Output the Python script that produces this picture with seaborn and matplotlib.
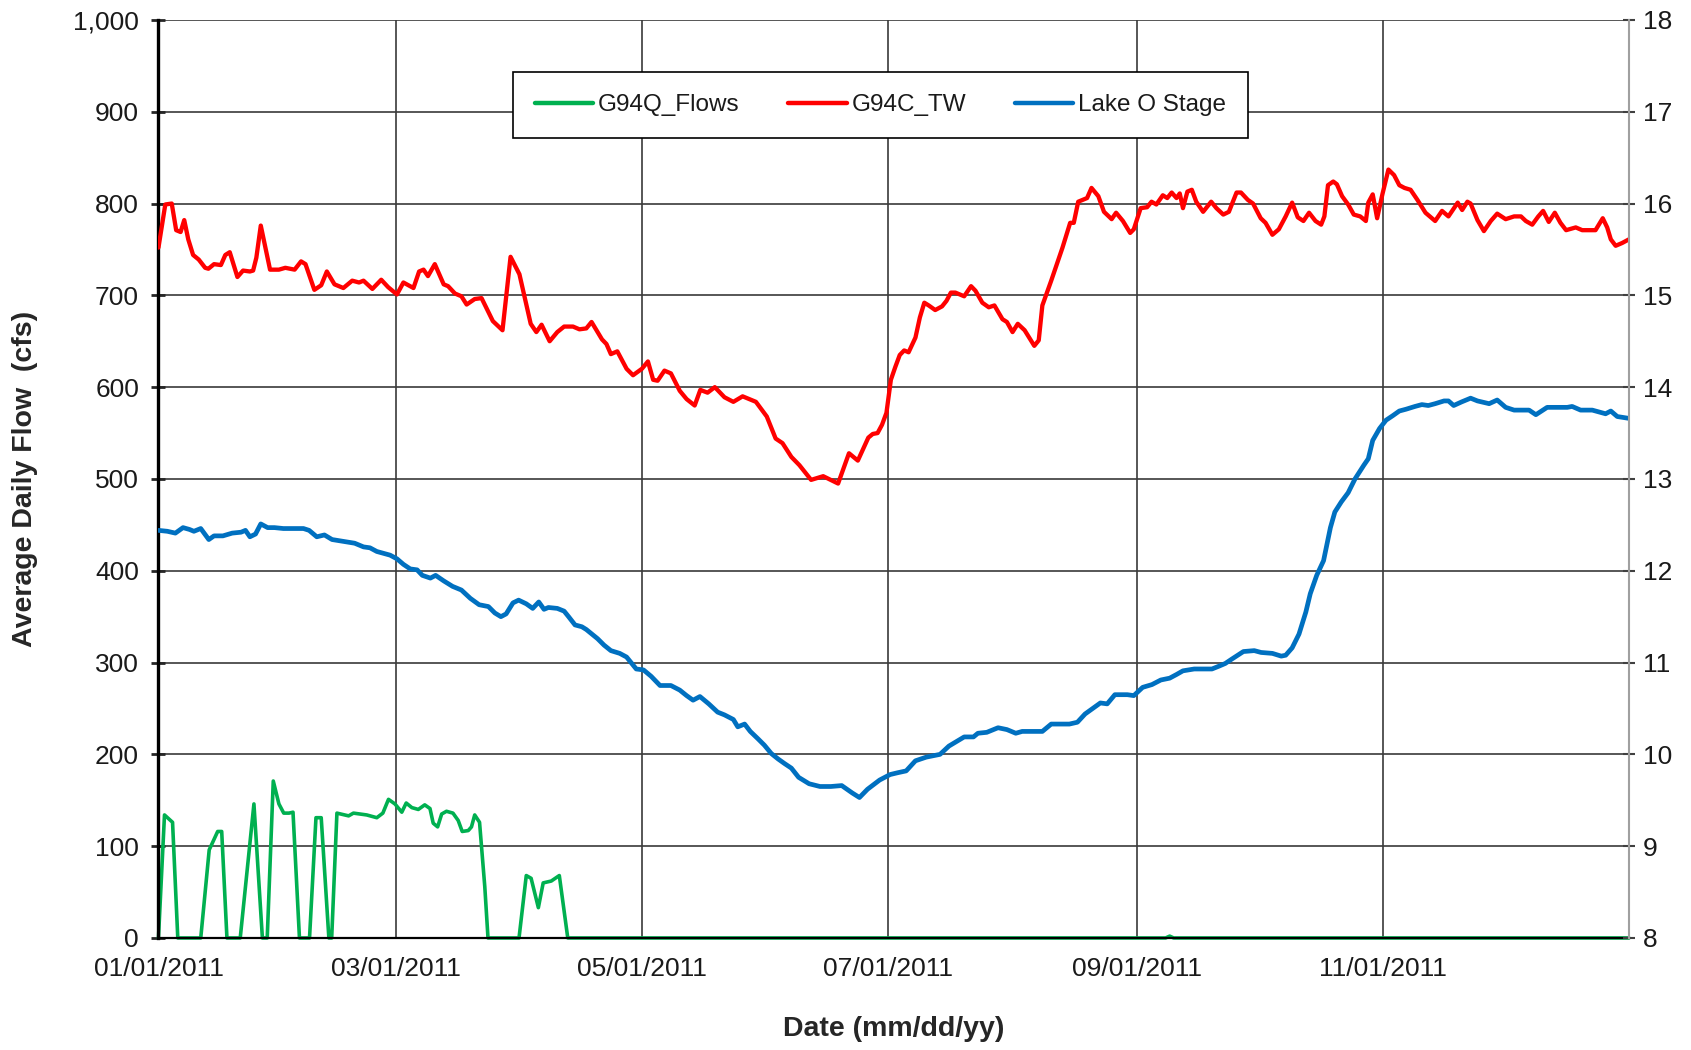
import pandas as pd
import matplotlib
matplotlib.use("Agg")
import matplotlib.pyplot as plt
import matplotlib.dates as mdates
from matplotlib.ticker import MultipleLocator, StrMethodFormatter, FuncFormatter
from matplotlib.lines import Line2D
import seaborn as sns

START = pd.Timestamp("2011-01-01")
END = pd.Timestamp("2012-01-01")

# day offsets from 01/01/2011
green_days = [0, 1.5, 3.5, 4.8, 10.5, 12.6, 14.7, 15.7, 17, 20.3, 23.7, 25.8, 27, 28.5, 29.9,
              31.1, 32.4, 33.4, 35, 37.5, 39.1, 40.4, 42.3, 43, 44.3, 47.2, 48.4, 51.7, 54.2,
              55.7, 57.1, 58.7, 60.4, 61.5, 62.9, 64.5, 66.1, 67.4, 68.2, 69.3, 70.3, 71.5,
              73.1, 74.4, 75.4, 76.9, 77.7, 78.5, 79.7, 81, 81.8, 89.5, 91.3, 92.5, 94.3,
              95.5, 97.5, 99.5, 101.6, 250, 251, 252, 365]
green_flow = [0, 134, 126, 0, 0, 96, 116, 116, 0, 0, 146, 0, 0, 171, 146,
              136, 136, 137, 0, 0, 131, 131, 0, 0, 136, 133, 136, 134, 131,
              136, 151, 146, 137, 147, 142, 140, 145, 141, 125, 121, 135, 138,
              136, 128, 116, 117, 121, 134, 126, 56, 0, 0, 68, 65, 33,
              60, 62, 68, 0, 0, 2, 0, 0]

red_days = [0, 1.7, 3.3, 4.4, 5.5, 6.4, 7.4, 8.6, 10, 11.6, 12.4, 13.8, 15.5, 16.6, 17.7,
            19.6, 21, 22.7, 23.5, 24.3, 25.4, 27.7, 29.9, 31.5, 33.8, 35.4, 36.5, 38.7,
            40.4, 41.8, 43.7, 45.9, 48.1, 49.8, 50.9, 53.1, 55.3, 57, 59.2, 60.8, 63.3,
            64.7, 65.8, 66.9, 68.6, 70.8, 71.9, 73.6, 75.2, 76.5, 78.5, 80.2, 83, 85.4,
            87.4, 89.6, 92.4, 93.8, 95.1, 97.1, 99, 100.7, 102.9, 104.5, 106.2, 107.5,
            110.1, 111.2, 112.3, 113.9, 116.2, 117.8, 120, 121.5, 122.8, 123.9, 125.6,
            127.2, 129.4, 131.1, 133.1, 134.5, 136.3, 138.1, 140.5, 142.7, 145, 148.3,
            151, 153.2, 154.9, 157.1, 159.1, 162, 165, 168.7, 171.4, 173.6, 176.2, 177.3,
            178.5, 179.6, 180.7, 181.8, 182.9, 184, 185.1, 186.2, 187.9, 189, 190.1,
            191.2, 192.8, 194.5, 195.6, 196.7, 197.8, 200, 201.7, 202.8, 204.5, 206.1,
            207.5, 209.5, 210.6, 212, 213.3, 215, 217.4, 218.5, 219.4, 221.6, 224.4,
            226.3, 227.2, 228.3, 230.5, 231.6, 233.3, 234.7, 236.6, 237.7, 239.4, 241.2,
            242.1, 243.8, 245.4, 246.5, 247.7, 249.3, 250.4, 251.5, 252.7, 253.5, 254.3,
            255.4, 256.5, 257.6, 259.3, 261.3, 262.6, 264.3, 265.7, 267.6, 268.7, 270.4,
            271.7, 273.6, 274.8, 276.5, 278.1, 279.8, 281.4, 282.8, 284.2, 285.6, 287.2,
            288.6, 289.4, 290.3, 291.6, 292.5, 293.8, 295.3, 296.7, 298.3, 299.7, 300.3,
            301.4, 302.5, 303.8, 305.3, 306.7, 308, 309.3, 310.8, 312.5, 314.5, 316.9,
            318.6, 320.2, 322.5, 323.6, 324.9, 325.7, 327.4, 329, 330.7, 332.3, 334.4,
            336.5, 338.2, 339.4, 341, 342.5, 343.7, 345.1, 346.6, 348, 349.4, 351.8,
            353.4, 356.7, 358.5, 359.6, 360.5, 361.7, 363.3, 365]
red_stage = [15.52, 15.99, 16.00, 15.71, 15.69, 15.82, 15.61, 15.44, 15.39, 15.30, 15.29,
             15.34, 15.33, 15.44, 15.47, 15.20, 15.27, 15.26, 15.27, 15.41, 15.76, 15.28,
             15.28, 15.30, 15.28, 15.37, 15.34, 15.06, 15.11, 15.26, 15.12, 15.08, 15.16,
             15.14, 15.16, 15.07, 15.17, 15.09, 15.01, 15.14, 15.08, 15.26, 15.28, 15.21,
             15.34, 15.12, 15.10, 15.02, 14.99, 14.90, 14.96, 14.97, 14.72, 14.62, 15.42,
             15.23, 14.69, 14.60, 14.68, 14.50, 14.60, 14.66, 14.66, 14.63, 14.64, 14.71,
             14.52, 14.47, 14.36, 14.39, 14.20, 14.13, 14.20, 14.28, 14.08, 14.07, 14.18,
             14.15, 13.96, 13.87, 13.80, 13.97, 13.94, 14.00, 13.89, 13.84, 13.90, 13.84,
             13.68, 13.44, 13.39, 13.24, 13.15, 12.99, 13.03, 12.95, 13.28, 13.20, 13.45,
             13.49, 13.50, 13.59, 13.72, 14.08, 14.22, 14.35, 14.40, 14.38, 14.54, 14.76,
             14.92, 14.89, 14.84, 14.88, 14.94, 15.03, 15.03, 14.99, 15.10, 15.05, 14.92,
             14.87, 14.89, 14.74, 14.71, 14.60, 14.69, 14.62, 14.45, 14.51, 14.89, 15.16,
             15.52, 15.79, 15.79, 16.02, 16.06, 16.17, 16.08, 15.91, 15.83, 15.90, 15.81,
             15.68, 15.72, 15.95, 15.96, 16.02, 15.99, 16.09, 16.06, 16.12, 16.06, 16.11,
             15.95, 16.13, 16.15, 16.02, 15.91, 16.02, 15.95, 15.88, 15.91, 16.12, 16.12,
             16.04, 16.00, 15.84, 15.79, 15.66, 15.72, 15.86, 16.01, 15.85, 15.81, 15.90,
             15.81, 15.77, 15.86, 16.20, 16.24, 16.21, 16.08, 15.99, 15.88, 15.86, 15.81,
             16.01, 16.10, 15.84, 16.10, 16.37, 16.31, 16.20, 16.17, 16.15, 16.04, 15.90,
             15.81, 15.92, 15.86, 16.01, 15.93, 16.02, 16.00, 15.82, 15.70, 15.81, 15.89,
             15.83, 15.86, 15.86, 15.81, 15.77, 15.86, 15.92, 15.80, 15.90, 15.79, 15.71,
             15.74, 15.71, 15.71, 15.84, 15.74, 15.61, 15.54, 15.57, 15.61]

blue_days = [0, 2.2, 4.2, 6.1, 7.7, 8.8, 10.5, 12.5, 13.8, 16, 18.3, 20.5, 21.6, 22.7, 24.1,
             25.4, 27.1, 28.8, 31, 33.7, 36, 37.4, 39.3, 41.2, 43.1, 45.9, 48.7, 50.9, 52.5,
             54.2, 55.9, 57.5, 59.2, 60.8, 62.5, 64.2, 65.5, 67.5, 68.8, 70.8, 73, 75.2,
             77.4, 79.6, 81.9, 83.5, 85, 86.3, 88, 89.4, 91.3, 92.9, 94.4, 95.7, 96.8, 99,
             100.7, 101.8, 103.4, 105.1, 106.2, 107.9, 109, 110.6, 112.3, 114.5, 116.2,
             117.3, 118.6, 120.4, 122.3, 124.5, 127.2, 129.4, 131.1, 132.7, 134.4, 136.6,
             138.8, 140.5, 142.7, 143.8, 145.5, 146.9, 148.8, 150.4, 152.1, 153.8, 155.4,
             157.1, 158.9, 161.5, 164.2, 166.9, 169.6, 172.2, 174, 176, 179, 181.6, 183.5,
             185.6, 187.9, 190.6, 194, 196.2, 200, 202.3, 203.4, 205.6, 208.4, 210.6,
             212.8, 214.4, 219.4, 221.6, 226.1, 228.1, 230, 231.6, 233.8, 235.5, 237.4,
             240.5, 242.1, 244.3, 246.6, 248.8, 251, 252.7, 254.3, 257.1, 258.2, 261.5,
             263.2, 264.8, 266.5, 269.3, 272, 273.7, 276.5, 278.7, 279.8, 281.4, 283.1,
             284.8, 285.9, 287.5, 289.2, 290.9, 292, 293.6, 295.3, 297, 299.2, 300.3,
             301.4, 303.1, 304.7, 306.4, 308, 309.7, 311.9, 313.6, 315.2, 316.9, 319.1,
             320.2, 321.5, 323.5, 325.7, 327.4, 330.3, 332.3, 334.4, 336.5, 340.2, 341.9,
             344.7, 349.7, 350.9, 353, 355.9, 359.2, 360.5, 362.1, 365]
blue_stage = [12.44, 12.43, 12.41, 12.47, 12.45, 12.43, 12.46, 12.34, 12.38, 12.38, 12.41,
              12.42, 12.44, 12.37, 12.40, 12.51, 12.47, 12.47, 12.46, 12.46, 12.46, 12.44,
              12.37, 12.39, 12.34, 12.32, 12.30, 12.26, 12.25, 12.21, 12.19, 12.17, 12.13,
              12.07, 12.02, 12.01, 11.95, 11.92, 11.95, 11.89, 11.83, 11.79, 11.70, 11.63,
              11.61, 11.54, 11.50, 11.53, 11.65, 11.68, 11.64, 11.59, 11.66, 11.58, 11.60,
              11.59, 11.56, 11.50, 11.41, 11.39, 11.36, 11.30, 11.26, 11.19, 11.13, 11.10,
              11.06, 11.00, 10.93, 10.92, 10.85, 10.75, 10.75, 10.70, 10.64, 10.59, 10.63,
              10.55, 10.46, 10.43, 10.38, 10.30, 10.33, 10.25, 10.17, 10.10, 10.01, 9.95,
              9.90, 9.85, 9.75, 9.68, 9.65, 9.65, 9.66, 9.58, 9.53, 9.62, 9.72, 9.78, 9.80,
              9.82, 9.93, 9.97, 10.00, 10.09, 10.19, 10.19, 10.23, 10.24, 10.29, 10.27,
              10.23, 10.25, 10.25, 10.33, 10.33, 10.35, 10.44, 10.49, 10.56, 10.55, 10.65,
              10.65, 10.64, 10.73, 10.76, 10.81, 10.83, 10.87, 10.91, 10.93, 10.93, 10.93,
              10.96, 10.99, 11.04, 11.12, 11.13, 11.11, 11.10, 11.07, 11.08, 11.16, 11.31,
              11.55, 11.75, 11.95, 12.11, 12.47, 12.64, 12.75, 12.85, 13.00, 13.15, 13.22,
              13.42, 13.55, 13.64, 13.69, 13.74, 13.76, 13.79, 13.81, 13.80, 13.82, 13.85,
              13.85, 13.80, 13.84, 13.88, 13.85, 13.82, 13.86, 13.78, 13.75, 13.75, 13.70,
              13.78, 13.78, 13.79, 13.75, 13.75, 13.71, 13.74, 13.68, 13.66]

series_labels = ["G94Q_Flows", "G94C_TW", "Lake O Stage"]
series_colors = ["#00B050", "#FF0000", "#0070C0"]


def to_frame(days, vals):
    return pd.DataFrame({"date": START + pd.to_timedelta(days, unit="D"), "value": vals})


sns.set_style("white")
plt.rcParams["font.family"] = ["Liberation Sans", "DejaVu Sans"]
plt.rcParams["text.color"] = "#1a1a1a"

fig, ax = plt.subplots(figsize=(16.91, 10.5), dpi=100)
fig.subplots_adjust(left=0.0937, right=0.9633, top=0.981, bottom=0.1067)
ax2 = ax.twinx()

sns.lineplot(data=to_frame(green_days, green_flow), x="date", y="value", ax=ax,
             color=series_colors[0], lw=2.6, sort=False, legend=False)
ax.lines[-1].set_clip_on(False)
sns.lineplot(data=to_frame(red_days, red_stage), x="date", y="value", ax=ax2,
             color=series_colors[1], lw=3.1, sort=False, legend=False)
sns.lineplot(data=to_frame(blue_days, blue_stage), x="date", y="value", ax=ax2,
             color=series_colors[2], lw=3.4, sort=False, legend=False)

ax.set_xlim(START, END)
ax.set_ylim(0, 1000)
ax2.set_ylim(8, 18)

# axes formatting
ax.yaxis.set_major_locator(MultipleLocator(100))
ax.yaxis.set_major_formatter(StrMethodFormatter("{x:,.0f}"))
ax2.yaxis.set_major_locator(MultipleLocator(1))
ax.xaxis.set_major_locator(mdates.MonthLocator(bymonth=[1, 3, 5, 7, 9, 11]))
ax.xaxis.set_minor_locator(mdates.MonthLocator(bymonth=[2, 4, 6, 8, 10, 12]))
ax.xaxis.set_major_formatter(FuncFormatter(
    lambda v, pos: "" if mdates.num2date(v).year > 2011 else mdates.num2date(v).strftime("%m/%d/%Y")))

ax.grid(True, which="major", color="#3a3a3a", lw=1.2)
ax2.grid(False)

ax.tick_params(axis="y", which="major", direction="inout", length=10, width=2,
               labelsize=19, pad=9, labelcolor="#1a1a1a")
ax.tick_params(axis="x", which="major", direction="inout", length=10, width=2,
               labelsize=19, pad=9, labelcolor="#1a1a1a")
ax.tick_params(axis="x", which="minor", direction="in", length=5, width=2)
ax2.tick_params(axis="y", direction="inout", length=8, width=1.5, color="#404040",
                labelsize=19, pad=6, labelcolor="#1a1a1a")

for side in ["top", "right"]:
    ax.spines[side].set_visible(False)
ax.spines["left"].set_linewidth(2.4)
ax.spines["left"].set_color("black")
ax.spines["bottom"].set_linewidth(1.6)
ax.spines["bottom"].set_color("black")
for side in ["top", "left", "bottom"]:
    ax2.spines[side].set_visible(False)
ax2.spines["right"].set_color("#a0a0a0")
ax2.spines["right"].set_linewidth(1.5)

ax.set_xlabel("Date (mm/dd/yy)", fontsize=20.5, fontweight="bold")
ax.set_ylabel("Average Daily Flow  (cfs)", fontsize=20.5, fontweight="bold")
ax.xaxis.set_label_coords(0.5, -0.085)
ax.yaxis.set_label_coords(-0.082, 0.5)
ax2.set_xlabel("")
ax2.set_ylabel("")

handles = [Line2D([], [], color=c, lw=3.2) for c in series_colors]
leg = ax2.legend(handles, series_labels, loc="center", bbox_to_anchor=(0.491, 0.907),
                 ncol=3, frameon=True, fancybox=False, framealpha=1, edgecolor="black",
                 fontsize=17.5, handlelength=2.4, handletextpad=0.2, columnspacing=2.0,
                 borderpad=0.9)
leg.get_frame().set_linewidth(1.2)

fig.savefig("out.png", dpi=100)
